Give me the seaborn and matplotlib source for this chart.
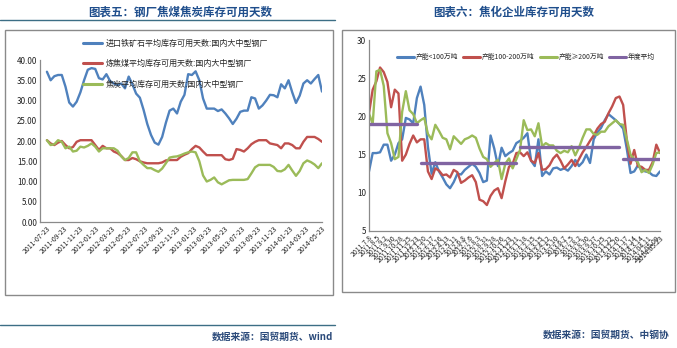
import numpy as np
import pandas as pd
import matplotlib
matplotlib.use("Agg")
import matplotlib.pyplot as plt
from matplotlib.patches import Rectangle
from matplotlib.lines import Line2D
from matplotlib.ticker import FormatStrFormatter
import seaborn as sns

# ---------------- 钢厂焦煤焦炭库存可用天数 ----------------
mill_start, mill_end = "2011-07-23", "2014-05-23"
ore_days = [37.1, 35.0, 36.0, 36.3, 36.3, 33.4, 29.5, 28.5, 29.7, 32.0,
            35.0, 37.6, 38.0, 37.8, 35.5, 35.2, 36.5, 34.8, 34.2, 33.8,
            34.2, 33.0, 35.9, 34.0, 31.7, 30.7, 27.7, 24.2, 21.5, 19.6,
            19.1, 21.0, 24.5, 27.5, 28.0, 26.8, 29.7, 31.4, 36.5, 36.3,
            37.2, 35.0, 30.5, 28.0, 28.0, 28.0, 27.4, 27.8, 26.8, 25.6,
            24.2, 25.5, 27.2, 27.5, 27.5, 30.8, 30.5, 28.0, 28.8, 30.0,
            31.4, 31.3, 30.8, 34.0, 33.0, 35.0, 32.0, 29.4, 31.2, 34.2,
            35.0, 34.2, 35.3, 36.3, 32.2]
coking_coal_days = [20.2, 19.4, 19.0, 19.6, 20.0, 19.0, 18.2, 18.5, 19.8, 20.2,
                    20.2, 20.2, 20.2, 19.0, 17.8, 18.8, 18.2, 18.2, 17.4, 17.0,
                    16.3, 15.3, 15.3, 15.8, 15.5, 15.0, 14.7, 14.5, 14.5, 14.5,
                    14.5, 14.7, 15.2, 15.3, 15.3, 15.3, 16.1, 16.6, 17.0, 18.0,
                    18.8, 18.4, 17.4, 16.5, 16.5, 16.5, 16.5, 16.5, 15.5, 15.3,
                    15.6, 18.0, 17.8, 17.4, 18.2, 19.2, 19.8, 20.2, 20.2, 20.2,
                    19.4, 19.2, 19.0, 18.2, 19.4, 19.4, 19.0, 18.2, 18.2, 19.8,
                    21.0, 21.0, 21.0, 20.5, 19.8]
coke_days = [20.2, 19.0, 19.2, 20.2, 19.8, 18.2, 18.6, 17.4, 17.6, 18.6,
             18.4, 18.8, 19.4, 18.6, 17.4, 18.2, 18.2, 18.2, 18.2, 17.6,
             16.2, 15.3, 15.8, 17.2, 17.2, 15.0, 14.1, 13.3, 13.3, 12.8,
             12.4, 13.2, 14.5, 15.9, 16.1, 16.2, 16.5, 16.9, 17.2, 17.4,
             17.2, 15.0, 11.5, 10.0, 10.4, 11.0, 9.8, 9.3, 9.8, 10.3,
             10.4, 10.4, 10.4, 10.4, 10.6, 12.0, 13.5, 14.1, 14.1, 14.1,
             14.1, 13.6, 12.6, 12.5, 13.0, 14.1, 12.7, 11.4, 12.6, 14.5,
             15.2, 14.8, 14.2, 13.3, 14.5]
mill_names = ["进口铁矿石平均库存可用天数:国内大中型钢厂",
              "炼焦煤平均库存可用天数:国内大中型钢厂",
              "焦炭平均库存可用天数:国内大中型钢厂"]
mill_ticks = ["2011-07-23", "2011-09-23", "2011-11-23", "2012-01-23", "2012-03-23",
              "2012-05-23", "2012-07-23", "2012-09-23", "2012-11-23", "2013-01-23",
              "2013-03-23", "2013-05-23", "2013-07-23", "2013-09-23", "2013-11-23",
              "2014-01-23", "2014-03-23", "2014-05-23"]

# ---------------- 焦化企业库存可用天数 ----------------
coker_start, coker_end = "2011-07-08", "2014-05-23"
small_days = [12.8, 15.2, 15.2, 15.3, 16.3, 16.3, 14.2, 15.0, 16.5, 17.0,
              19.8, 19.6, 19.1, 22.4, 23.9, 21.5, 16.0, 12.5, 14.0, 12.8,
              12.0, 11.1, 10.6, 11.4, 12.5, 12.4, 13.0, 13.4, 13.8, 13.4,
              12.6, 11.4, 11.6, 17.5, 15.8, 13.5, 15.9, 14.8, 15.2, 15.5,
              16.5, 16.8, 17.2, 17.8, 14.2, 13.5, 17.0, 12.2, 12.8, 12.4,
              13.2, 13.3, 13.0, 13.2, 12.9, 13.5, 14.3, 13.5, 14.0, 15.0,
              13.9, 17.0, 17.9, 18.5, 19.5, 20.3, 19.9, 19.5, 19.0, 18.4,
              15.7, 12.6, 12.8, 13.6, 13.0, 12.8, 12.7, 12.3, 12.2, 12.8]
mid_days = [20.4, 23.5, 24.6, 26.4, 25.8, 24.5, 21.2, 23.5, 23.0, 14.2,
            15.0, 16.4, 17.5, 16.6, 17.0, 17.0, 12.8, 11.8, 13.2, 12.9,
            12.3, 12.4, 12.0, 13.0, 12.7, 11.3, 11.6, 12.0, 12.3, 11.4,
            9.1, 8.9, 8.4, 9.6, 10.3, 10.6, 9.3, 11.5, 13.4, 13.8,
            15.2, 15.3, 14.8, 15.3, 14.2, 13.9, 15.2, 13.0, 13.1, 13.6,
            14.5, 15.0, 14.2, 13.2, 13.7, 14.3, 13.5, 14.4, 15.3, 16.0,
            16.8, 17.5, 18.4, 19.0, 19.3, 20.4, 21.3, 22.4, 22.6, 21.5,
            16.8, 13.8, 15.6, 13.5, 13.4, 13.0, 13.0, 14.0, 16.3, 15.2]
large_days = [20.4, 19.0, 25.9, 26.1, 24.0, 17.8, 16.5, 14.4, 14.7, 20.6,
              23.3, 20.8, 20.3, 19.1, 19.5, 19.8, 17.7, 17.0, 18.9, 18.1,
              17.2, 17.0, 15.7, 17.4, 16.9, 16.4, 17.0, 17.2, 17.5, 17.2,
              15.8, 14.7, 14.4, 13.4, 13.9, 14.3, 11.8, 13.8, 14.5, 13.2,
              14.4, 15.6, 19.5, 18.2, 18.3, 17.4, 19.1, 16.1, 16.5, 16.2,
              16.2, 15.5, 15.2, 15.5, 15.3, 16.1, 14.9, 15.9, 17.2, 18.3,
              18.3, 17.7, 17.6, 18.0, 18.0, 18.7, 19.1, 19.5, 19.0, 18.9,
              17.0, 15.0, 14.4, 14.0, 12.7, 13.0, 12.6, 13.7, 15.2, 15.3]
avg_years = [2011, 2012, 2013, 2014]
avg_days = [19.0, 13.9, 15.95, 14.4]
coker_names = ["产能<100万吨", "产能100-200万吨", "产能≥200万吨", "年度平均"]
coker_ticks = ["2011.7.8", "2011.8.5", "2011.9.2", "2011.9.30", "2011.10.28",
               "2011.11.25", "2011.12.23", "2012.1.20", "2012.2.17", "2012.3.16",
               "2012.4.13", "2012.5.11", "2012.6.8", "2012.7.6", "2012.8.3",
               "2012.8.31", "2012.9.28", "2012.10.26", "2012.11.23", "2012.12.21",
               "2013.1.18", "2013.2.15", "2013.3.15", "2013.4.12", "2013.5.10",
               "2013.6.7", "2013.7.5", "2013.8.2", "2013.8.30", "2013.9.27",
               "2013.10.25", "2013.11.22", "2013.12.20", "2014.1.17", "2014.2.14",
               "2014.3.14", "2014.04.11", "2014.05.09", "2014.05.23"]

BLUE, RED, GREEN, PURPLE = "#4F81BD", "#C0504D", "#9BBB59", "#8064A2"
AXIS_GREY = "#8a8a8a"
TITLE_BLUE = "#1F4E8C"

sns.set_theme(style="white")
plt.rcParams["font.family"] = ["Noto Sans CJK SC", "DejaVu Sans"]
plt.rcParams["axes.unicode_minus"] = False

W, H = 677, 348
fig = plt.figure(figsize=(W / 100, H / 100), dpi=100)


def rect(x0, y0, x1, y1):
    """Pixel box (top-left origin) -> figure fraction [l, b, w, h]."""
    return [x0 / W, 1 - y1 / H, (x1 - x0) / W, (y1 - y0) / H]


# outer chart frames
for x0, y0, x1, y1 in [(5, 30, 333, 295), (342, 30, 675, 292)]:
    l, b, w, h = rect(x0, y0, x1, y1)
    fig.patches.append(Rectangle((l, b), w, h, transform=fig.transFigure,
                                 fill=False, edgecolor=AXIS_GREY, lw=1.0))


def style_axes(ax):
    for side in ("top", "right"):
        ax.spines[side].set_visible(False)
    for side in ("left", "bottom"):
        ax.spines[side].set_color(AXIS_GREY)
        ax.spines[side].set_linewidth(0.9)
    ax.tick_params(length=0, pad=2, colors="#222222")
    ax.set_xlabel("")
    ax.set_ylabel("")
    ax.grid(False)


# ---- left chart ----
n1 = len(ore_days)
mill_dates = pd.date_range(mill_start, mill_end, periods=n1)
mill_df = pd.DataFrame({
    "date": np.tile(mill_dates, 3),
    "days": ore_days + coking_coal_days + coke_days,
    "series": np.repeat(mill_names, n1),
})
ax1 = fig.add_axes(rect(40, 60, 322, 222))
sns.lineplot(data=mill_df, x="date", y="days", hue="series", hue_order=mill_names,
             palette=[BLUE, RED, GREEN], linewidth=1.7, ax=ax1, legend=False)
ax1.set_ylim(0, 40)
ax1.set_yticks(np.arange(0, 41, 5))
ax1.yaxis.set_major_formatter(FormatStrFormatter("%.2f"))
ax1.set_xlim(mill_dates[0] - pd.Timedelta(days=26), mill_dates[-1])
ax1.set_xticks(pd.to_datetime(mill_ticks))
ax1.set_xticklabels(mill_ticks, rotation=45, ha="right", rotation_mode="anchor",
                    fontsize=5)
ax1.tick_params(axis="y", labelsize=5.8)
style_axes(ax1)

fig.legend([Line2D([], [], color=c, lw=2.2) for c in (BLUE, RED, GREEN)], mill_names,
           loc="upper left", bbox_to_anchor=(83 / W, 1 - 39 / H), frameon=False,
           fontsize=5.8, handlelength=2.4, handletextpad=0.4, labelspacing=1.4,
           borderpad=0, borderaxespad=0)

# ---- right chart ----
n2 = len(small_days)
coker_dates = pd.date_range(coker_start, coker_end, periods=n2)
coker_df = pd.DataFrame({
    "date": np.tile(coker_dates, 3),
    "days": small_days + mid_days + large_days,
    "series": np.repeat(coker_names[:3], n2),
})
ax2 = fig.add_axes(rect(369, 40, 660, 231))
sns.lineplot(data=coker_df, x="date", y="days", hue="series", hue_order=coker_names[:3],
             palette=[BLUE, RED, GREEN], linewidth=1.7, ax=ax2, legend=False)
for yr, val in zip(avg_years, avg_days):
    yr_dates = coker_dates[coker_dates.year == yr]
    seg = pd.DataFrame({"date": yr_dates, "days": [val] * len(yr_dates)})
    sns.lineplot(data=seg, x="date", y="days", color=PURPLE, linewidth=2.4, ax=ax2)
ax2.set_ylim(5, 30)
ax2.set_yticks(np.arange(5, 31, 5))
ax2.set_xlim(coker_dates[0], coker_dates[-1])
ax2.set_xticks(pd.to_datetime(coker_ticks, format="%Y.%m.%d"))
ax2.set_xticklabels(coker_ticks, rotation=45, ha="right", rotation_mode="anchor",
                    fontsize=5)
ax2.tick_params(axis="y", labelsize=5.8)
style_axes(ax2)

fig.legend([Line2D([], [], color=c, lw=2.2) for c in (BLUE, RED, GREEN, PURPLE)],
           coker_names, loc="center left", bbox_to_anchor=(397 / W, 1 - 57 / H),
           ncol=4, frameon=False, fontsize=4.9, handlelength=2.5, handletextpad=0.3,
           columnspacing=0.7, borderpad=0, borderaxespad=0)

# ---- titles, rules and sources ----
fig.text(180 / W, 1 - 12 / H, "图表五：钢厂焦煤焦炭库存可用天数", ha="center", va="center",
         fontsize=8.3, fontweight="bold", color=TITLE_BLUE)
fig.text(514 / W, 1 - 12 / H, "图表六：焦化企业库存可用天数", ha="center", va="center",
         fontsize=8.3, fontweight="bold", color=TITLE_BLUE)
fig.add_artist(Line2D([0, 335 / W], [1 - 20 / H] * 2, color="#3C6E85", lw=1.0))
fig.add_artist(Line2D([0, 335 / W], [1 - 325 / H] * 2, color="#3C6E85", lw=1.0))
fig.text(333 / W, 1 - 337 / H, "数据来源：国贸期货、wind", ha="right", va="center",
         fontsize=7, fontweight="bold", color="#2B4A7A")
fig.text(670 / W, 1 - 335 / H, "数据来源：国贸期货、中钢协", ha="right", va="center",
         fontsize=7, fontweight="bold", color="#2B4A7A")

fig.savefig("out.png", dpi=100, facecolor="white")
